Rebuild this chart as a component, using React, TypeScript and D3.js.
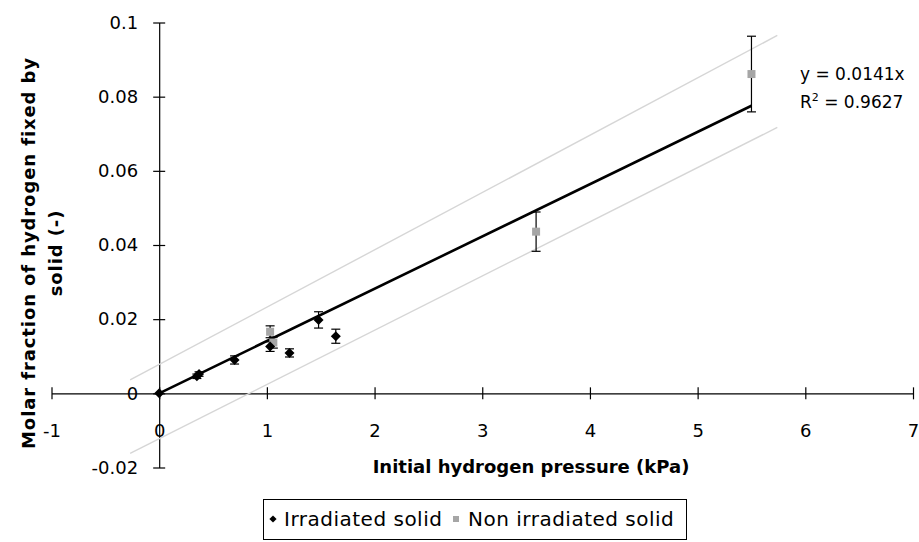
import React, { useEffect, useRef } from "react";
import * as d3 from "d3";

// irradiated solid (black diamonds)
const irradiatedX = [0, 0.35, 0.37, 0.7, 1.03, 1.21, 1.48, 1.64];
const irradiatedY = [0, 0.0046, 0.0052, 0.009, 0.0126, 0.0109, 0.0198, 0.0154];
const irradiatedErr = [0, 0.0006, 0.0006, 0.0011, 0.0013, 0.0011, 0.0022, 0.0019];

// non irradiated solid (grey squares)
const nonIrradiatedX = [1.03, 1.06, 3.5, 5.5];
const nonIrradiatedY = [0.0166, 0.0137, 0.0436, 0.0861];
const nonIrradiatedErr = [0.0016, 0.0015, 0.0053, 0.0102];

// linear fit through origin and its band
const fitSlope = 0.0141;
const fitX = [0, 5.5];
const upperBandX = [-0.27, 5.74];
const upperBandY = [0.0036, 0.0965];
const lowerBandX = [-0.27, 5.74];
const lowerBandY = [-0.0162, 0.0717];

const xTicks = [-1, 0, 1, 2, 3, 4, 5, 6, 7];
const yTicks = [-0.02, 0, 0.02, 0.04, 0.06, 0.08, 0.1];
const yTickLabels = ["-0.02", "0", "0.02", "0.04", "0.06", "0.08", "0.1"];

const FONT = "DejaVu Sans";

export default function App() {
    const ref = useRef<SVGSVGElement>(null);

    useEffect(() => {
        const svg = d3.select(ref.current);
        svg.selectAll("*").remove();

        const x = d3.scaleLinear().domain([-1, 7]).range([51.5, 913]);
        const y = d3.scaleLinear().domain([-0.02, 0.1]).range([467.5, 22.5]);

        // x axis
        const xAxis = svg.append("g")
            .attr("transform", `translate(0, ${y(0)})`)
            .call(d3.axisBottom(x).tickValues(xTicks).tickFormat(d => String(d)).tickSize(6).tickSizeOuter(0).tickPadding(25));
        xAxis.selectAll(".tick line").attr("y1", -6).attr("y2", 6);

        // y axis
        const yAxis = svg.append("g")
            .attr("transform", `translate(${x(0)}, 0)`)
            .call(d3.axisLeft(y).tickValues(yTicks).tickFormat((d, i) => yTickLabels[i]).tickSize(6).tickSizeOuter(0).tickPadding(15));
        yAxis.selectAll(".tick line").attr("x1", -6).attr("x2", 6);

        [xAxis, yAxis].forEach(g => {
            g.attr("font-family", FONT).attr("font-size", 18);
            g.selectAll("path, line").attr("stroke", "#000").attr("stroke-width", 1.2);
            g.selectAll("text").attr("fill", "#000");
        });

        // band lines
        const line = d3.line<[number, number]>().x(d => x(d[0])).y(d => y(d[1]));
        [[upperBandX, upperBandY], [lowerBandX, lowerBandY]].forEach(([bx, by]) => {
            svg.append("path")
                .attr("d", line(bx.map((v, i) => [v, by[i]] as [number, number])))
                .attr("fill", "none")
                .attr("stroke", "#d6d6d6")
                .attr("stroke-width", 1.4);
        });

        // fit line
        svg.append("path")
            .attr("d", line(fitX.map(v => [v, v * fitSlope] as [number, number])))
            .attr("fill", "none")
            .attr("stroke", "#000")
            .attr("stroke-width", 2.6);

        // error bars
        const errorBars = (xs: number[], ys: number[], es: number[]) => {
            xs.forEach((xv, i) => {
                if (es[i] <= 0) return;
                const g = svg.append("g").attr("stroke", "#000").attr("stroke-width", 1.2);
                g.append("line").attr("x1", x(xv)).attr("x2", x(xv)).attr("y1", y(ys[i] + es[i])).attr("y2", y(ys[i] - es[i]));
                [ys[i] + es[i], ys[i] - es[i]].forEach(v => {
                    g.append("line").attr("x1", x(xv) - 4.5).attr("x2", x(xv) + 4.5).attr("y1", y(v)).attr("y2", y(v));
                });
            });
        };
        errorBars(nonIrradiatedX, nonIrradiatedY, nonIrradiatedErr);
        errorBars(irradiatedX, irradiatedY, irradiatedErr);

        // markers
        svg.append("g").selectAll("path")
            .data(nonIrradiatedX)
            .enter().append("path")
            .attr("d", d3.symbol().type(d3.symbolSquare).size(64)())
            .attr("transform", (d, i) => `translate(${x(d)}, ${y(nonIrradiatedY[i])})`)
            .attr("fill", "#a6a6a6");

        svg.append("g").selectAll("path")
            .data(irradiatedX)
            .enter().append("path")
            .attr("d", d3.symbol().type(d3.symbolSquare).size(50)())
            .attr("transform", (d, i) => `translate(${x(d)}, ${y(irradiatedY[i])}) rotate(45)`)
            .attr("fill", "#000");

        // equation
        const eq = svg.append("g").attr("font-family", FONT).attr("font-size", 17).attr("fill", "#000");
        eq.append("text").attr("x", 800).attr("y", 80).text("y = 0.0141x");
        const r2 = eq.append("text").attr("x", 800).attr("y", 108);
        r2.append("tspan").text("R");
        r2.append("tspan").attr("dy", -7).attr("font-size", 11).text("2");
        r2.append("tspan").attr("dy", 7).text(" = 0.9627");

        // axis titles
        svg.append("text")
            .attr("x", 531).attr("y", 473)
            .attr("text-anchor", "middle")
            .attr("font-family", FONT).attr("font-size", 18).attr("font-weight", "bold")
            .text("Initial hydrogen pressure (kPa)");

        const yt = svg.append("text")
            .attr("transform", "translate(0, 253) rotate(-90)")
            .attr("text-anchor", "middle")
            .attr("font-family", FONT).attr("font-size", 18).attr("font-weight", "bold")
            .attr("letter-spacing", 0.9);
        yt.append("tspan").attr("x", 0).attr("y", 35).text("Molar fraction of hydrogen fixed by");
        yt.append("tspan").attr("x", 0).attr("y", 62).text("solid (-)");

        // legend
        const lg = svg.append("g").attr("font-family", FONT).attr("font-size", 20).attr("letter-spacing", 0.5);
        lg.append("rect").attr("x", 263.5).attr("y", 499.5).attr("width", 423).attr("height", 40)
            .attr("fill", "#fff").attr("stroke", "#000").attr("stroke-width", 1);
        lg.append("path").attr("d", d3.symbol().type(d3.symbolSquare).size(26)())
            .attr("transform", "translate(273, 519) rotate(45)").attr("fill", "#000");
        lg.append("text").attr("x", 284).attr("y", 526).text("Irradiated solid");
        lg.append("path").attr("d", d3.symbol().type(d3.symbolSquare).size(36)())
            .attr("transform", "translate(456, 519)").attr("fill", "#a6a6a6");
        lg.append("text").attr("x", 468).attr("y", 526).text("Non irradiated solid");
    }, []);

    return (
        <svg ref={ref} width={919} height={542} style={{ position: "absolute", left: 0, top: 0, background: "#fff" }} />
    );
}
